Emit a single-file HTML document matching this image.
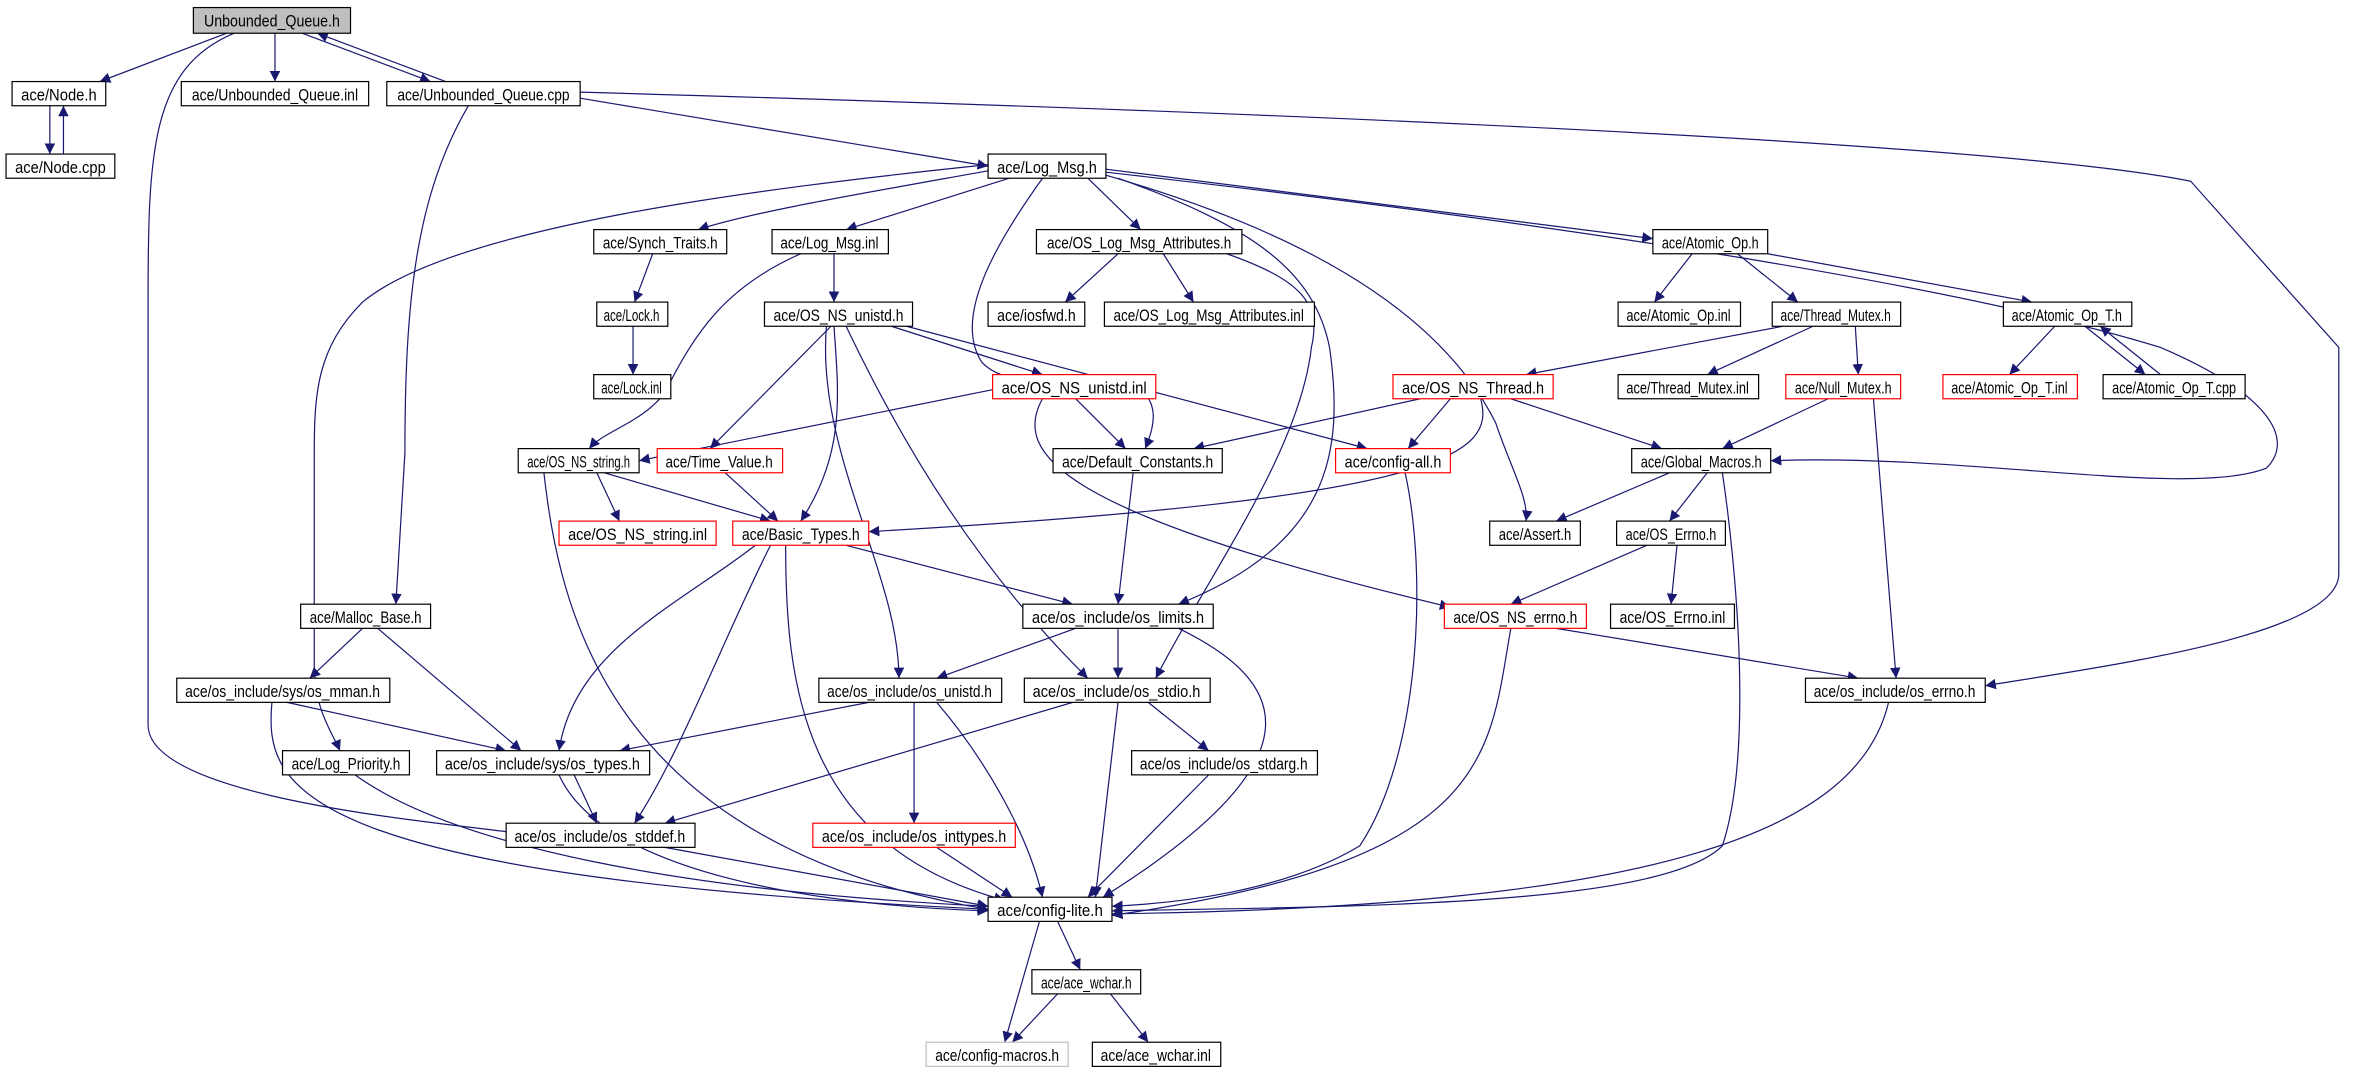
<!DOCTYPE html>
<html><head><meta charset="utf-8"><style>
html,body{margin:0;padding:0;background:#fff;}
svg{display:block}
text{font-family:"Liberation Sans",sans-serif;font-size:11px;fill:#000}
.e{fill:none;stroke:#191970;stroke-width:0.8}
</style></head><body>
<svg width="2369" height="1083" viewBox="0 0 1568 717" preserveAspectRatio="none" xmlns="http://www.w3.org/2000/svg">
<defs><marker id="a" viewBox="0 0 10 10" refX="10" refY="5" markerWidth="7" markerHeight="7" orient="auto" markerUnits="userSpaceOnUse"><path d="M0,0 L10,5 L0,10 z" fill="#191970"/></marker></defs>
<g class="e" marker-end="url(#a)">
<path d="M150,22 L66,54"/>
<path d="M182,22 L182,54"/>
<path d="M200,22 L285,54"/>
<path d="M295,54 L210,22"/>
<path d="M155,22 C100,45 98,100 98,200 L98,480 C98,530 300,545 345,552"/>
<path d="M33,70 L33,102"/>
<path d="M42,102 L42,70"/>
<path d="M384,65 L654,110"/>
<path d="M310,70 C275,130 268,200 268,300 L262,400"/>
<path d="M384,61 C700,70 1300,90 1450,120 L1548,230 L1548,380 C1548,420 1400,440 1314,454"/>
<path d="M660,112 C560,130 500,140 462,152"/>
<path d="M668,118 L560,152"/>
<path d="M720,118 L755,152"/>
<path d="M732,112 L1094,158"/>
<path d="M654,109 C500,125 300,150 240,200 C210,230 208,260 208,300 L208,440 C208,470 220,485 225,497"/>
<path d="M690,118 C660,160 630,210 650,240 C670,260 700,245 740,250 C770,260 765,280 758,297"/>
<path d="M732,116 C850,150 950,200 990,280 C1000,310 1012,330 1010,345"/>
<path d="M740,118 C830,150 870,180 880,230 C890,300 880,360 780,400"/>
<path d="M732,114 C1050,150 1300,190 1430,230 C1500,260 1520,290 1500,310 C1450,330 1300,300 1172,305"/>
<path d="M812,168 C860,185 875,200 868,230 C860,300 800,380 765,449"/>
<path d="M740,168 L705,200"/>
<path d="M770,168 L790,200"/>
<path d="M432,168 L420,200"/>
<path d="M419,216 L419,248"/>
<path d="M552,168 L552,200"/>
<path d="M530,168 C480,190 460,220 440,260 C425,280 400,285 390,297"/>
<path d="M590,216 L690,248"/>
<path d="M600,216 L905,297"/>
<path d="M550,216 L470,297"/>
<path d="M552,216 C555,260 560,300 530,345"/>
<path d="M547,216 C540,300 595,380 595,449"/>
<path d="M560,216 C600,300 650,380 720,449"/>
<path d="M657,258 L423,305"/>
<path d="M712,264 L745,297"/>
<path d="M690,264 C670,300 700,340 960,402"/>
<path d="M940,264 L790,297"/>
<path d="M960,264 L932,297"/>
<path d="M980,264 C990,300 960,330 575,352"/>
<path d="M1000,264 L1100,297"/>
<path d="M1120,168 L1095,200"/>
<path d="M1150,168 L1190,200"/>
<path d="M1170,168 L1345,200"/>
<path d="M1180,216 L1010,248"/>
<path d="M1200,216 L1130,248"/>
<path d="M1228,216 L1230,248"/>
<path d="M1360,216 L1330,248"/>
<path d="M1380,216 L1420,248"/>
<path d="M1430,248 L1390,216"/>
<path d="M1210,264 L1140,297"/>
<path d="M1240,264 L1255,449"/>
<path d="M930,313 C945,380 940,500 900,560 C850,590 780,598 736,600"/>
<path d="M750,313 L740,400"/>
<path d="M1105,313 L1030,345"/>
<path d="M1130,313 L1105,345"/>
<path d="M1140,313 C1150,380 1160,500 1140,560 C1100,600 900,600 736,603"/>
<path d="M1090,361 L1000,400"/>
<path d="M1110,361 L1106,400"/>
<path d="M1030,416 L1230,449"/>
<path d="M1000,416 C985,500 990,570 736,606"/>
<path d="M395,313 L410,345"/>
<path d="M400,313 L510,345"/>
<path d="M360,313 C370,400 400,560 654,602"/>
<path d="M480,313 L515,345"/>
<path d="M560,361 L710,400"/>
<path d="M500,361 C450,400 380,430 370,497"/>
<path d="M510,361 C480,420 450,500 420,545"/>
<path d="M520,361 C520,450 530,560 665,596"/>
<path d="M712,416 L620,449"/>
<path d="M740,416 L740,449"/>
<path d="M780,416 C850,450 880,500 730,594"/>
<path d="M240,416 L205,449"/>
<path d="M250,416 L345,497"/>
<path d="M190,465 L335,497"/>
<path d="M180,465 C175,520 190,580 654,602"/>
<path d="M575,465 L410,497"/>
<path d="M605,465 L605,545"/>
<path d="M620,465 C650,500 680,550 690,594"/>
<path d="M710,465 L440,545"/>
<path d="M760,465 L800,497"/>
<path d="M740,465 L725,594"/>
<path d="M1250,465 C1230,550 1100,600 736,605"/>
<path d="M235,513 C300,560 450,590 654,600"/>
<path d="M380,513 L395,545"/>
<path d="M370,513 C400,580 550,600 654,603"/>
<path d="M800,513 L720,594"/>
<path d="M440,561 L654,600"/>
<path d="M620,561 L670,594"/>
<path d="M688,610 L665,690"/>
<path d="M700,610 L715,642"/>
<path d="M700,658 L670,690"/>
<path d="M735,658 L760,690"/>
</g>
<g stroke-width="0.8">
<rect x="128" y="5" width="104" height="17" fill="#bfbfbf" stroke="#000"/><text x="180" y="17.5" text-anchor="middle" textLength="90" lengthAdjust="spacingAndGlyphs">Unbounded_Queue.h</text>
</g>
<g fill="#fff" stroke="#000" stroke-width="0.8">
<rect x="8" y="54" width="62" height="16"/><rect x="4" y="102" width="72" height="16"/>
<rect x="120" y="54" width="124" height="16"/><rect x="256" y="54" width="128" height="16"/>
<rect x="654" y="102" width="78" height="16"/><rect x="393" y="152" width="88" height="16"/>
<rect x="511" y="152" width="77" height="16"/><rect x="686" y="152" width="136" height="16"/>
<rect x="1094" y="152" width="76" height="16"/><rect x="395" y="200" width="47" height="16"/>
<rect x="506" y="200" width="98" height="16"/><rect x="654" y="200" width="64" height="16"/>
<rect x="731" y="200" width="139" height="16"/><rect x="1071" y="200" width="81" height="16"/>
<rect x="1173" y="200" width="85" height="16"/><rect x="1326" y="200" width="85" height="16"/>
<rect x="393" y="248" width="51" height="16"/><rect x="1071" y="248" width="93" height="16"/>
<rect x="1392" y="248" width="94" height="16"/><rect x="343" y="297" width="80" height="16"/>
<rect x="697" y="297" width="112" height="16"/><rect x="1080" y="297" width="92" height="16"/>
<rect x="986" y="345" width="60" height="16"/><rect x="1070" y="345" width="72" height="16"/>
<rect x="199" y="400" width="86" height="16"/><rect x="677" y="400" width="126" height="16"/>
<rect x="1066" y="400" width="82" height="16"/><rect x="117" y="449" width="141" height="16"/>
<rect x="542" y="449" width="121" height="16"/><rect x="678" y="449" width="123" height="16"/>
<rect x="1195" y="449" width="119" height="16"/><rect x="187" y="497" width="84" height="16"/>
<rect x="289" y="497" width="141" height="16"/><rect x="749" y="497" width="123" height="16"/>
<rect x="335" y="545" width="125" height="16"/><rect x="654" y="594" width="82" height="16"/>
<rect x="683" y="642" width="72" height="16"/><rect x="723" y="690" width="85" height="16"/>
</g>
<g fill="#fff" stroke="#ff0000" stroke-width="0.8">
<rect x="657" y="248" width="108" height="16"/><rect x="922" y="248" width="106" height="16"/>
<rect x="1182" y="248" width="76" height="16"/><rect x="1286" y="248" width="89" height="16"/>
<rect x="435" y="297" width="83" height="16"/><rect x="884" y="297" width="76" height="16"/>
<rect x="370" y="345" width="104" height="16"/><rect x="485" y="345" width="90" height="16"/>
<rect x="956" y="400" width="94" height="16"/><rect x="538" y="545" width="134" height="16"/>
</g>
<rect x="613" y="690" width="94" height="16" fill="#fff" stroke="#bfbfbf" stroke-width="0.8"/>
<g text-anchor="middle">
<text x="39" y="66.5" textLength="50" lengthAdjust="spacingAndGlyphs">ace/Node.h</text>
<text x="40" y="114.5" textLength="60" lengthAdjust="spacingAndGlyphs">ace/Node.cpp</text>
<text x="182" y="66.5" textLength="110" lengthAdjust="spacingAndGlyphs">ace/Unbounded_Queue.inl</text>
<text x="320" y="66.5" textLength="114" lengthAdjust="spacingAndGlyphs">ace/Unbounded_Queue.cpp</text>
<text x="693" y="114.5" textLength="66" lengthAdjust="spacingAndGlyphs">ace/Log_Msg.h</text>
<text x="437" y="164.5" textLength="76" lengthAdjust="spacingAndGlyphs">ace/Synch_Traits.h</text>
<text x="549" y="164.5" textLength="65" lengthAdjust="spacingAndGlyphs">ace/Log_Msg.inl</text>
<text x="754" y="164.5" textLength="122" lengthAdjust="spacingAndGlyphs">ace/OS_Log_Msg_Attributes.h</text>
<text x="1132" y="164.5" textLength="64" lengthAdjust="spacingAndGlyphs">ace/Atomic_Op.h</text>
<text x="418" y="212.5" textLength="37" lengthAdjust="spacingAndGlyphs">ace/Lock.h</text>
<text x="555" y="212.5" textLength="86" lengthAdjust="spacingAndGlyphs">ace/OS_NS_unistd.h</text>
<text x="686" y="212.5" textLength="52" lengthAdjust="spacingAndGlyphs">ace/iosfwd.h</text>
<text x="800" y="212.5" textLength="126" lengthAdjust="spacingAndGlyphs">ace/OS_Log_Msg_Attributes.inl</text>
<text x="1111" y="212.5" textLength="69" lengthAdjust="spacingAndGlyphs">ace/Atomic_Op.inl</text>
<text x="1215" y="212.5" textLength="73" lengthAdjust="spacingAndGlyphs">ace/Thread_Mutex.h</text>
<text x="1368" y="212.5" textLength="73" lengthAdjust="spacingAndGlyphs">ace/Atomic_Op_T.h</text>
<text x="418" y="260.5" textLength="40" lengthAdjust="spacingAndGlyphs">ace/Lock.inl</text>
<text x="711" y="260.5" textLength="96" lengthAdjust="spacingAndGlyphs">ace/OS_NS_unistd.inl</text>
<text x="975" y="260.5" textLength="94" lengthAdjust="spacingAndGlyphs">ace/OS_NS_Thread.h</text>
<text x="1117" y="260.5" textLength="81" lengthAdjust="spacingAndGlyphs">ace/Thread_Mutex.inl</text>
<text x="1220" y="260.5" textLength="64" lengthAdjust="spacingAndGlyphs">ace/Null_Mutex.h</text>
<text x="1330" y="260.5" textLength="77" lengthAdjust="spacingAndGlyphs">ace/Atomic_Op_T.inl</text>
<text x="1439" y="260.5" textLength="82" lengthAdjust="spacingAndGlyphs">ace/Atomic_Op_T.cpp</text>
<text x="383" y="309.5" textLength="68" lengthAdjust="spacingAndGlyphs">ace/OS_NS_string.h</text>
<text x="476" y="309.5" textLength="71" lengthAdjust="spacingAndGlyphs">ace/Time_Value.h</text>
<text x="753" y="309.5" textLength="100" lengthAdjust="spacingAndGlyphs">ace/Default_Constants.h</text>
<text x="922" y="309.5" textLength="64" lengthAdjust="spacingAndGlyphs">ace/config-all.h</text>
<text x="1126" y="309.5" textLength="80" lengthAdjust="spacingAndGlyphs">ace/Global_Macros.h</text>
<text x="422" y="357.5" textLength="92" lengthAdjust="spacingAndGlyphs">ace/OS_NS_string.inl</text>
<text x="530" y="357.5" textLength="78" lengthAdjust="spacingAndGlyphs">ace/Basic_Types.h</text>
<text x="1016" y="357.5" textLength="48" lengthAdjust="spacingAndGlyphs">ace/Assert.h</text>
<text x="1106" y="357.5" textLength="60" lengthAdjust="spacingAndGlyphs">ace/OS_Errno.h</text>
<text x="242" y="412.5" textLength="74" lengthAdjust="spacingAndGlyphs">ace/Malloc_Base.h</text>
<text x="740" y="412.5" textLength="114" lengthAdjust="spacingAndGlyphs">ace/os_include/os_limits.h</text>
<text x="1003" y="412.5" textLength="82" lengthAdjust="spacingAndGlyphs">ace/OS_NS_errno.h</text>
<text x="1107" y="412.5" textLength="70" lengthAdjust="spacingAndGlyphs">ace/OS_Errno.inl</text>
<text x="187" y="461.5" textLength="129" lengthAdjust="spacingAndGlyphs">ace/os_include/sys/os_mman.h</text>
<text x="602" y="461.5" textLength="109" lengthAdjust="spacingAndGlyphs">ace/os_include/os_unistd.h</text>
<text x="739" y="461.5" textLength="111" lengthAdjust="spacingAndGlyphs">ace/os_include/os_stdio.h</text>
<text x="1254" y="461.5" textLength="107" lengthAdjust="spacingAndGlyphs">ace/os_include/os_errno.h</text>
<text x="229" y="509.5" textLength="72" lengthAdjust="spacingAndGlyphs">ace/Log_Priority.h</text>
<text x="359" y="509.5" textLength="129" lengthAdjust="spacingAndGlyphs">ace/os_include/sys/os_types.h</text>
<text x="810" y="509.5" textLength="111" lengthAdjust="spacingAndGlyphs">ace/os_include/os_stdarg.h</text>
<text x="397" y="557.5" textLength="113" lengthAdjust="spacingAndGlyphs">ace/os_include/os_stddef.h</text>
<text x="605" y="557.5" textLength="122" lengthAdjust="spacingAndGlyphs">ace/os_include/os_inttypes.h</text>
<text x="695" y="606.5" textLength="70" lengthAdjust="spacingAndGlyphs">ace/config-lite.h</text>
<text x="719" y="654.5" textLength="60" lengthAdjust="spacingAndGlyphs">ace/ace_wchar.h</text>
<text x="660" y="702.5" textLength="82" lengthAdjust="spacingAndGlyphs">ace/config-macros.h</text>
<text x="765" y="702.5" textLength="73" lengthAdjust="spacingAndGlyphs">ace/ace_wchar.inl</text>
</g>
</svg>
</body></html>
